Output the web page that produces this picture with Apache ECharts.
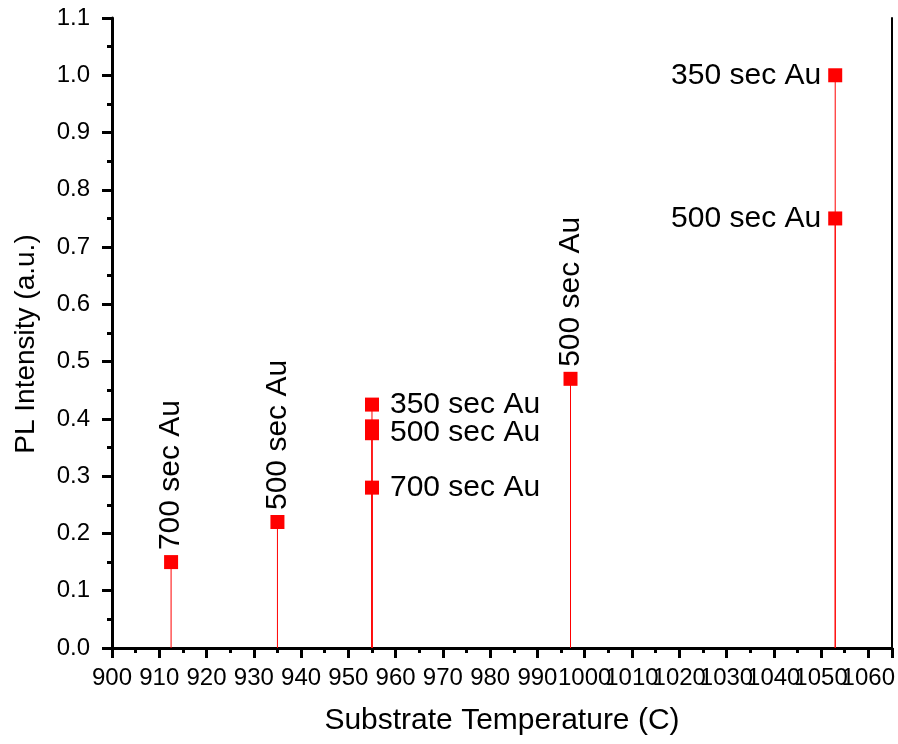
<!DOCTYPE html>
<html lang="en">

<head>
    <meta charset="UTF-8">
    <title>PL Intensity vs Substrate Temperature</title>
    <style>
        * {
            margin: 0;
            padding: 0;
        }

        #main {
            width: 898px;
            height: 744px;
            background-color: #ffffff;
        }
    </style>
</head>
<script src="https://cdn.jsdelivr.net/npm/echarts@6/dist/echarts.min.js"></script>

<body>
    <div id="main"></div>
    <script>
        // data
        const temps = [912.5, 935, 955, 955, 955, 955, 997, 1053, 1053];
        const intensity = [0.15, 0.22, 0.425, 0.387, 0.375, 0.28, 0.47, 1.0, 0.75];
        const pointLabels = ['700 sec Au', '500 sec Au', '350 sec Au', '', '500 sec Au', '700 sec Au',
            '500 sec Au', '350 sec Au', '500 sec Au'];

        const font = '"Liberation Sans", Arial, sans-serif';
        const red = '#ff0000';
        const maxTemp = Math.max(...temps);

        // how many points share each temperature
        const countAt = {};
        temps.forEach(t => { countAt[t] = (countAt[t] || 0) + 1; });

        const points = temps.map((t, i) => {
            let label;
            if (countAt[t] === 1) {
                // lone points: text goes up, rotated
                label = { position: 'top', rotate: 90, align: 'left', verticalAlign: 'middle', distance: 5 };
            } else if (t === maxTemp) {
                label = { position: 'left', distance: 7 };
            } else {
                label = { position: 'right', distance: 11 };
            }
            label.show = pointLabels[i] !== '';
            return { value: [t, intensity[i]], name: pointLabels[i], label: label };
        });

        var chartDom = document.getElementById('main');
        var myChart = echarts.init(chartDom);
        var option = {
            animation: false,
            backgroundColor: '#ffffff',
            grid: { left: 112, right: 5, top: 18, bottom: 96 },
            xAxis: [
                {
                    type: 'value',
                    min: 900,
                    max: 1065,
                    interval: 10,
                    name: 'Substrate Temperature (C)',
                    nameLocation: 'middle',
                    nameGap: 58,
                    nameTextStyle: { fontFamily: font, fontSize: 30, color: '#000' },
                    splitLine: { show: false },
                    axisLine: { lineStyle: { color: '#000', width: 3 } },
                    axisTick: { length: 10, lineStyle: { color: '#000', width: 3 } },
                    minorTick: { show: true, splitNumber: 2, length: 5, lineStyle: { color: '#000', width: 3 } },
                    axisLabel: {
                        margin: 18,
                        hideOverlap: false,
                        showMaxLabel: true,
                        showMinLabel: true,
                        fontFamily: font,
                        fontSize: 24,
                        color: '#000',
                        formatter: v => (v % 10 === 0 ? String(v) : '')
                    }
                },
                {
                    type: 'value',
                    position: 'top',
                    min: 900,
                    max: 1065,
                    axisLine: { show: true, lineStyle: { color: '#000', width: 2 } },
                    axisTick: { show: false },
                    axisLabel: { show: false },
                    splitLine: { show: false }
                }
            ],
            yAxis: [
                {
                    type: 'value',
                    min: 0,
                    max: 1.1,
                    interval: 0.1,
                    name: 'PL Intensity (a.u.)',
                    nameLocation: 'middle',
                    nameGap: 72,
                    nameTextStyle: { fontFamily: font, fontSize: 28, color: '#000', padding: [0, 22, 0, 0] },
                    splitLine: { show: false },
                    axisLine: { show: true, lineStyle: { color: '#000', width: 3 } },
                    axisTick: { show: true, length: 10, lineStyle: { color: '#000', width: 3 } },
                    minorTick: { show: true, splitNumber: 2, length: 5, lineStyle: { color: '#000', width: 3 } },
                    axisLabel: {
                        margin: 22,
                        fontFamily: font,
                        fontSize: 24,
                        color: '#000',
                        formatter: v => v.toFixed(1)
                    }
                },
                {
                    type: 'value',
                    position: 'right',
                    min: 0,
                    max: 1.1,
                    axisLine: { show: true, lineStyle: { color: '#000', width: 2 } },
                    axisTick: { show: false },
                    axisLabel: { show: false },
                    splitLine: { show: false }
                }
            ],
            series: [
                {
                    // drop lines to the axis
                    type: 'custom',
                    silent: true,
                    data: temps.map((t, i) => [t, intensity[i]]),
                    renderItem: function (params, api) {
                        const top = api.coord([api.value(0), api.value(1)]);
                        const bottom = api.coord([api.value(0), 0]);
                        return {
                            type: 'line',
                            shape: { x1: top[0], y1: top[1], x2: bottom[0], y2: bottom[1] },
                            style: { stroke: red, lineWidth: 1 }
                        };
                    },
                    z: 1
                },
                {
                    type: 'scatter',
                    symbol: 'rect',
                    symbolSize: 14,
                    itemStyle: { color: red, opacity: 1 },
                    label: {
                        formatter: '{b}',
                        fontFamily: font,
                        fontSize: 30,
                        color: '#000'
                    },
                    data: points,
                    z: 3
                }
            ]
        };
        option && myChart.setOption(option);
    </script>
</body>

</html>
